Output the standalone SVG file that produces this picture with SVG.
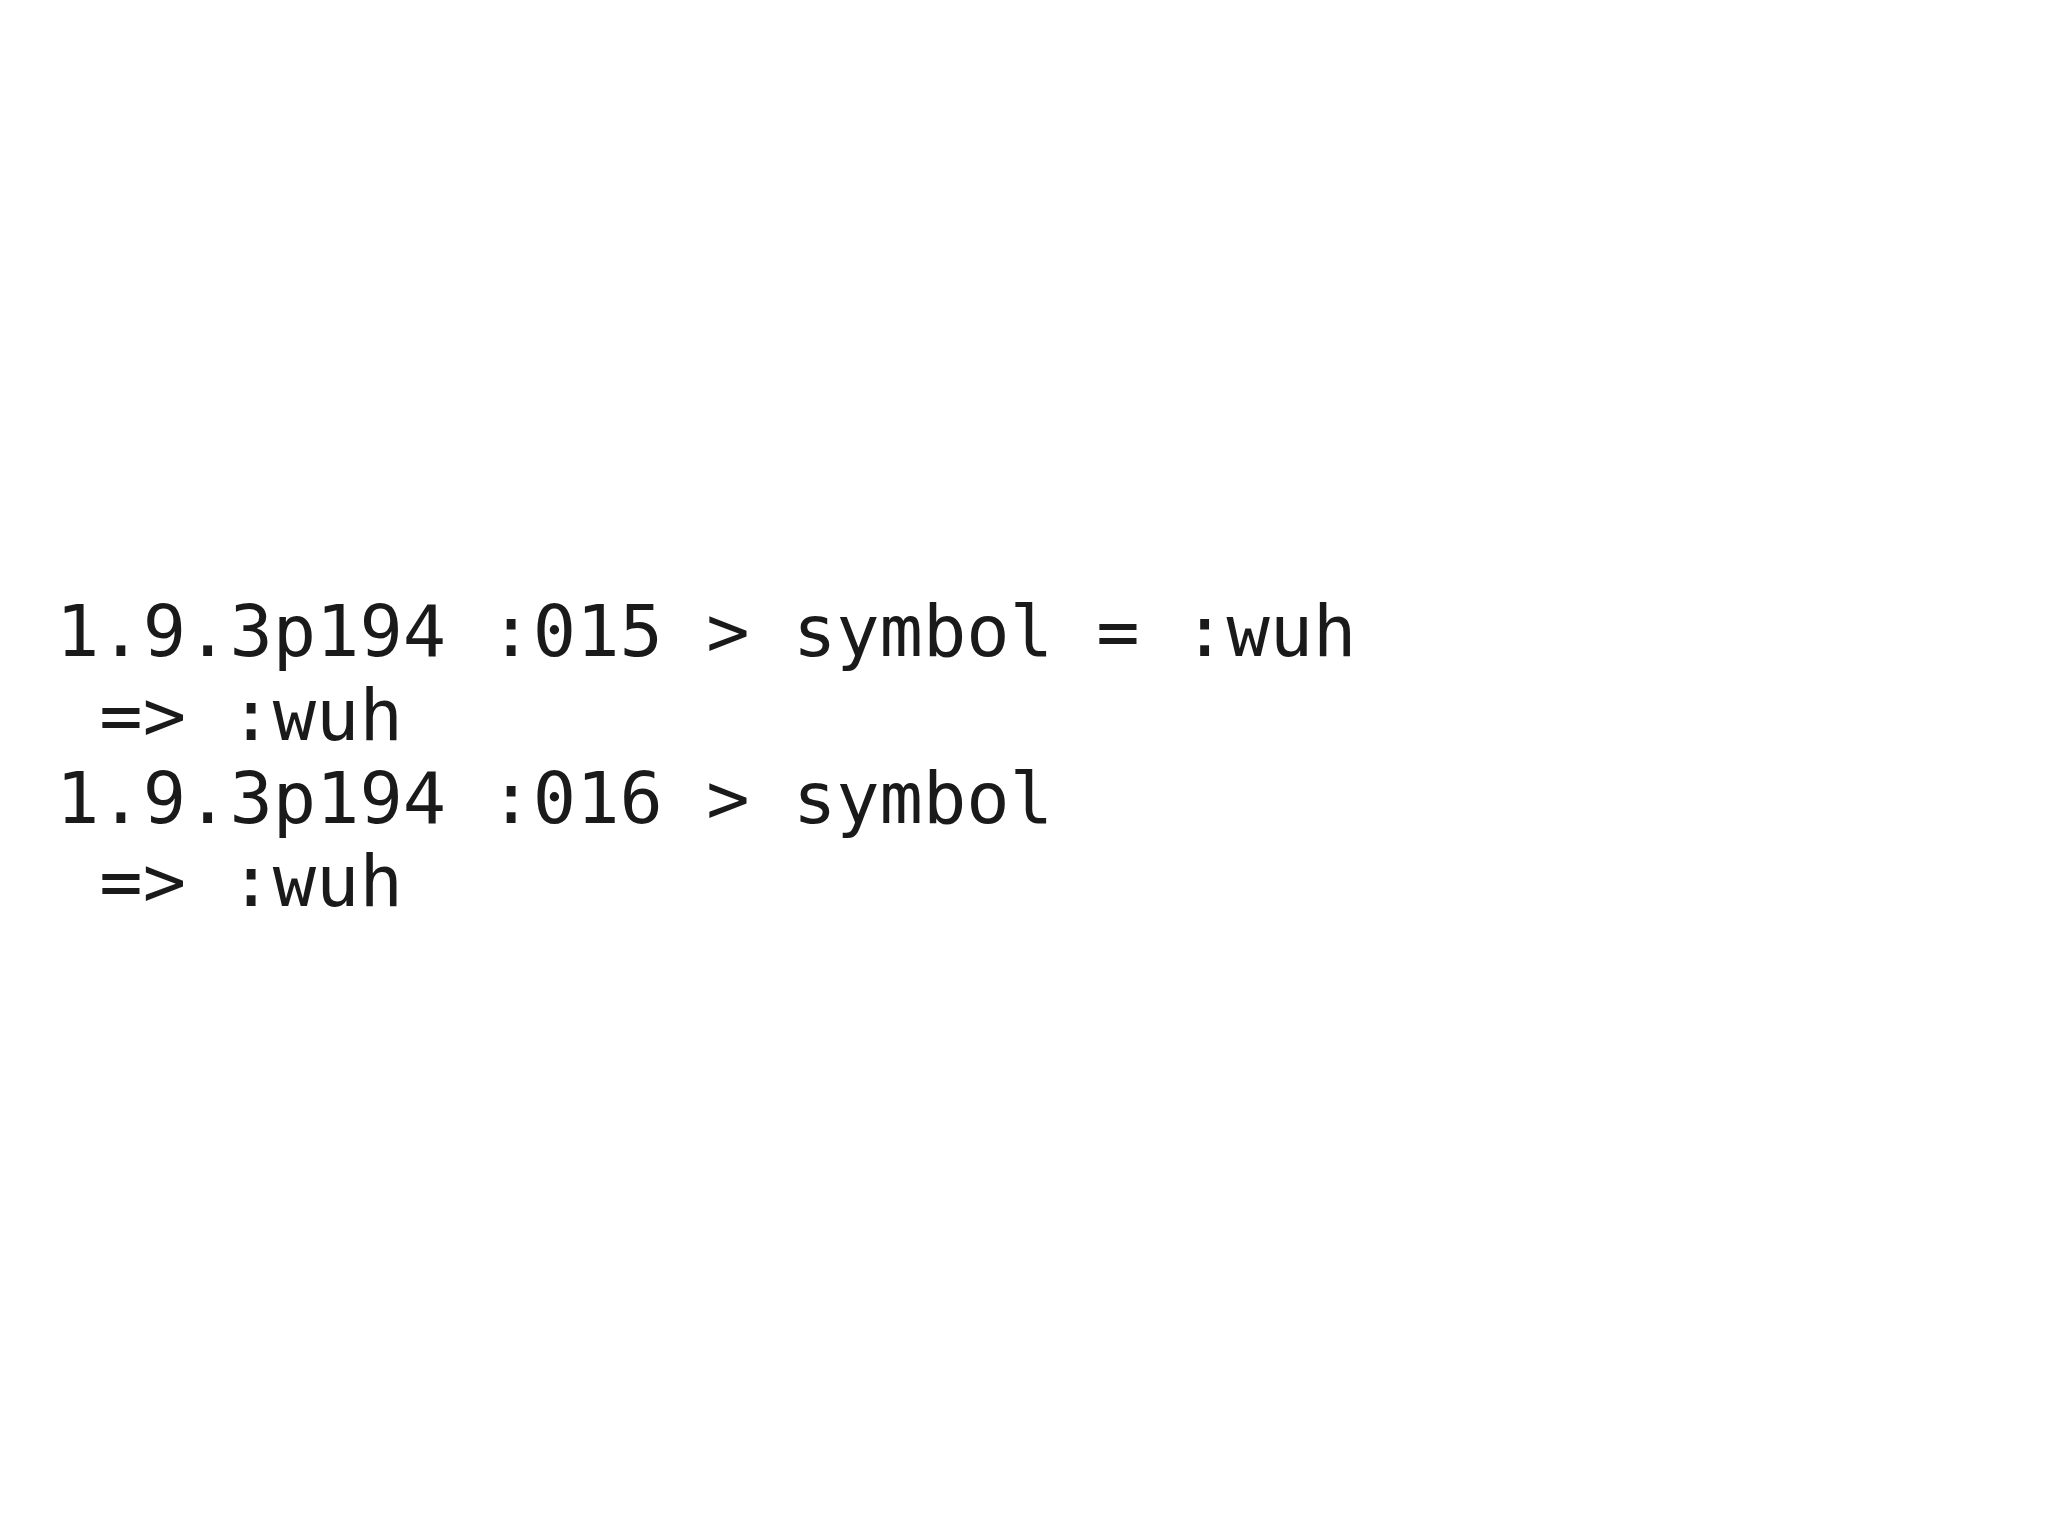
<svg xmlns="http://www.w3.org/2000/svg" width="2048" height="1535" viewBox="0 0 2048 1535">
<style>text{font-family:"DejaVu Sans Mono","Liberation Mono",monospace;font-size:72px;fill:#1a1a1a;white-space:pre}</style>
<rect width="2048" height="1535" fill="#fff"/>
<g id="code">
<text x="56" y="656" xml:space="preserve">1.9.3p194 :015 &gt; symbol = :wuh</text>
<text x="56" y="740" xml:space="preserve"> =&gt; :wuh</text>
<text x="56" y="823" xml:space="preserve">1.9.3p194 :016 &gt; symbol</text>
<text x="56" y="906" xml:space="preserve"> =&gt; :wuh</text>
</g>
</svg>
